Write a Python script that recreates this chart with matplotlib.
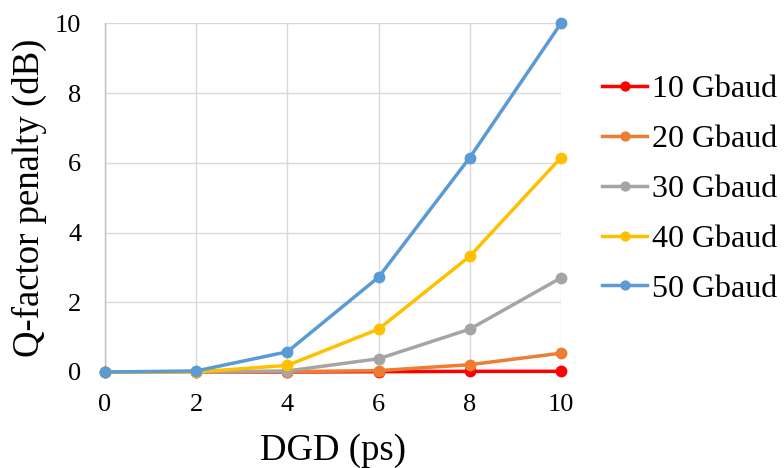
import matplotlib
matplotlib.use("Agg")
import matplotlib.pyplot as plt

plt.rcParams['font.family'] = ['Liberation Serif', 'DejaVu Serif']

dgd = [0, 2, 4, 6, 8, 10]
series_labels = ["10 Gbaud", "20 Gbaud", "30 Gbaud", "40 Gbaud", "50 Gbaud"]
penalty_10 = [0, 0, 0.0, 0.01, 0.02, 0.02]
penalty_20 = [0, 0, 0.01, 0.04, 0.21, 0.54]
penalty_30 = [0, 0, 0.03, 0.38, 1.23, 2.70]
penalty_40 = [0, 0, 0.19, 1.23, 3.32, 6.15]
penalty_50 = [0, 0.03, 0.58, 2.72, 6.15, 10.0]
series_values = [penalty_10, penalty_20, penalty_30, penalty_40, penalty_50]
colors = ["#FF0000", "#ED7D31", "#A5A5A5", "#FFC000", "#5B9BD5"]
x_ticks = [0, 2, 4, 6, 8, 10]
y_ticks = [0, 2, 4, 6, 8, 10]

fig = plt.figure(figsize=(7.84, 4.68), dpi=100)
ax = fig.add_axes([105 / 784, 1 - 372 / 468, 456 / 784, 348.7 / 468])

for vals, lab, col in zip(series_values, series_labels, colors):
    ax.plot(dgd, vals, color=col, lw=2.5, marker='o', markersize=7.5,
            label=lab, clip_on=False, zorder=3)

ax.set_xlim(0, 10)
ax.set_ylim(0, 10)
ax.set_xticks(x_ticks)
ax.set_yticks(y_ticks)
ax.grid(True, color="#D9D9D9", lw=1.0, zorder=0)
ax.set_axisbelow(True)
for side in ("top", "right"):
    ax.spines[side].set_visible(False)
for side in ("left", "bottom"):
    ax.spines[side].set_color("#BFBFBF")
    ax.spines[side].set_linewidth(1.0)

ax.tick_params(axis='both', length=0, labelsize=19)
ax.tick_params(axis='x', pad=16)
ax.tick_params(axis='y', pad=17)

ax.set_xlabel("DGD (ps)", fontsize=26.5)
ax.set_ylabel("Q-factor penalty (dB)", fontsize=26.5)
ax.xaxis.set_label_coords(0.5, -0.252)
ax.xaxis.label.set_va('baseline')
ax.yaxis.set_label_coords(-0.1667, 0.5)
ax.yaxis.label.set_va('center')

leg = ax.legend(loc='upper left', bbox_to_anchor=(602 / 784, 1 - 75 / 468),
                bbox_transform=fig.transFigure, frameon=False, fontsize=23,
                borderpad=0, borderaxespad=0, handlelength=1.42,
                handletextpad=0.15, labelspacing=0.64, markerscale=0.85)

fig.savefig("out.png", dpi=100)
